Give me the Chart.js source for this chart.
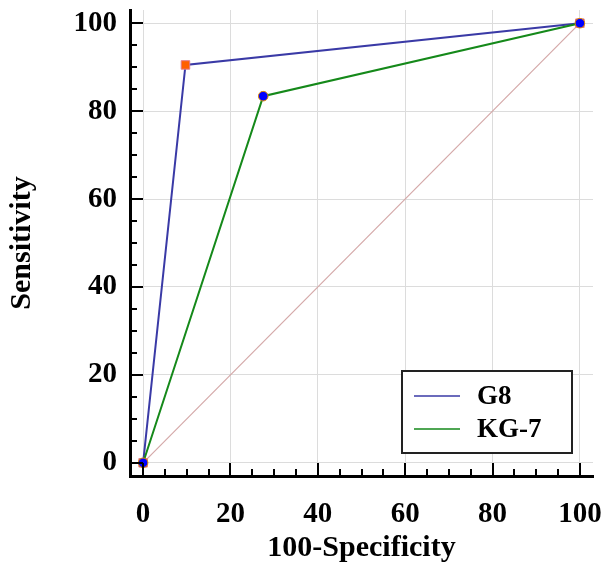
<!DOCTYPE html>
<html>
<head>
<meta charset="utf-8">
<script src="https://cdn.jsdelivr.net/npm/chart.js@4/dist/chart.umd.min.js"></script>
<style>
  html, body { margin: 0; padding: 0; background: #fff; }
  #wrap { width: 604px; height: 564px; }
</style>
</head>
<body>
<div id="wrap"><canvas id="c" width="604" height="564"></canvas></div>
<script>
// ---- data ----
const seriesNames = ['G8', 'KG-7'];
const g8X = [0, 9.7, 100];
const g8Y = [0, 90.5, 100];
const kg7X = [0, 27.5, 100];
const kg7Y = [0, 83.4, 100];
const refX = [0, 100];
const refY = [0, 100];
const tickValues = [0, 5, 10, 15, 20, 25, 30, 35, 40, 45, 50, 55, 60, 65, 70, 75, 80, 85, 90, 95, 100];
const majorStep = 20;
const xTitle = '100-Specificity';
const yTitle = 'Sensitivity';

const toPts = (xs, ys) => xs.map((v, i) => ({ x: v, y: ys[i] }));
const FONT = "'Liberation Serif', 'Times New Roman', serif";
const colors = { g8: '#3a3aa6', kg7: '#15891a' };

const innerTicks = {
  id: 'innerTicks',
  afterDatasetsDraw(chart) {
    const { ctx, chartArea: a, scales: { x, y } } = chart;
    ctx.save();
    ctx.strokeStyle = '#000';
    ctx.lineWidth = 2;
    tickValues.forEach(v => {
      const len = v % majorStep === 0 ? 13 : 7;
      const px = Math.round(x.getPixelForValue(v));
      ctx.beginPath(); ctx.moveTo(px, a.bottom); ctx.lineTo(px, a.bottom - len); ctx.stroke();
      const py = Math.round(y.getPixelForValue(v));
      ctx.beginPath(); ctx.moveTo(a.left, py); ctx.lineTo(a.left + len, py); ctx.stroke();
    });
    ctx.restore();
  }
};

const boxLegend = {
  id: 'boxLegend',
  afterDraw(chart) {
    const { ctx, chartArea: a } = chart;
    const right = a.right - 21, bottom = a.bottom - 23;
    const w = 170, h = 82;
    const left = right - w, top = bottom - h;
    ctx.save();
    ctx.fillStyle = '#fff';
    ctx.fillRect(left, top, w, h);
    ctx.strokeStyle = '#222';
    ctx.lineWidth = 2;
    ctx.strokeRect(left, top, w, h);
    const items = [
      { label: seriesNames[0], color: colors.g8 },
      { label: seriesNames[1], color: colors.kg7 }
    ];
    ctx.font = "bold 27px " + FONT;
    ctx.textBaseline = 'middle';
    ctx.fillStyle = '#000';
    items.forEach((it, i) => {
      const yy = top + 25 + i * 33;
      ctx.strokeStyle = it.color;
      ctx.lineWidth = 1.5;
      ctx.beginPath(); ctx.moveTo(left + 12, yy); ctx.lineTo(left + 58, yy); ctx.stroke();
      ctx.fillText(it.label, left + 75, yy + 1);
    });
    ctx.restore();
  }
};

const axisCommon = (titleText) => ({
  type: 'linear',
  min: -3,
  max: 103,
  afterBuildTicks: (s) => { s.ticks = tickValues.map(v => ({ value: v })); },
  ticks: {
    autoSkip: false,
    maxRotation: 0,
    color: '#000',
    font: { family: FONT, size: 29, weight: 'bold' },
    callback: (v) => (v % majorStep === 0 ? String(v) : '')
  },
  grid: {
    drawTicks: false,
    color: (c) => (c.tick && c.tick.value % majorStep === 0 ? '#dcdcdc' : 'rgba(0,0,0,0)'),
    lineWidth: 1
  },
  border: { display: true, color: '#000', width: 3 },
  title: {
    display: true,
    text: titleText,
    color: '#000',
    font: { family: FONT, size: 30, weight: 'bold' }
  }
});

const xAxis = axisCommon(xTitle);
xAxis.position = 'bottom';
xAxis.ticks.padding = 21;
xAxis.title.padding = { top: 0, bottom: -2 };
xAxis.afterFit = (s) => { s.height = 88; s.paddingLeft = 0; s.paddingRight = 0; };

const yAxis = axisCommon(yTitle);
yAxis.position = 'left';
yAxis.ticks.padding = 13;
yAxis.title.padding = { top: 4, bottom: 0 };
yAxis.afterFit = (s) => { s.width = 130; s.paddingTop = 0; s.paddingBottom = 0; };

new Chart(document.getElementById('c'), {
  type: 'scatter',
  data: {
    datasets: [
      {
        label: seriesNames[0],
        data: toPts(g8X, g8Y),
        showLine: true,
        borderColor: colors.g8,
        borderWidth: 2,
        pointStyle: 'rect',
        pointRadius: 6,
        pointBackgroundColor: '#ff6000',
        pointBorderColor: '#e27a8a',
        pointBorderWidth: 1,
        order: 1
      },
      {
        label: seriesNames[1],
        data: toPts(kg7X, kg7Y),
        showLine: true,
        borderColor: colors.kg7,
        borderWidth: 2,
        pointStyle: 'circle',
        pointRadius: 4.8,
        pointBackgroundColor: '#0000ff',
        pointBorderColor: '#e08a00',
        pointBorderWidth: 1,
        order: 0
      },
      {
        label: 'ref',
        data: toPts(refX, refY),
        showLine: true,
        borderColor: '#d4a8a8',
        borderWidth: 1.2,
        pointRadius: 0,
        order: 2
      }
    ]
  },
  options: {
    responsive: false,
    animation: false,
    layout: { padding: { top: 10, right: 11, left: 0, bottom: 0 } },
    plugins: { legend: { display: false }, tooltip: { enabled: false } },
    scales: { x: xAxis, y: yAxis }
  },
  plugins: [innerTicks, boxLegend]
});
</script>
</body>
</html>
